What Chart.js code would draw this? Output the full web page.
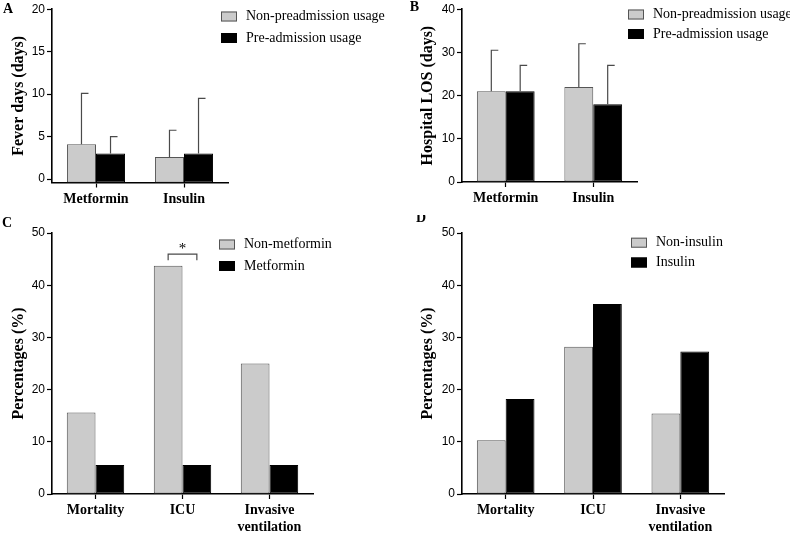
<!DOCTYPE html>
<html>
<head>
<meta charset="utf-8">
<title>Fever days, LOS and outcomes by diabetes medication</title>
<script src="https://cdn.jsdelivr.net/npm/chart.js@4.4.0/dist/chart.umd.min.js"></script>
<style>
  body { margin: 0; background: #fff; }
  #fig { position: relative; width: 790px; height: 533px; }
  #fig canvas { position: absolute; }
</style>
</head>
<body>
<div id="fig">
  <canvas id="chartA" width="395" height="215" style="left:0;top:0"></canvas>
  <canvas id="chartB" width="395" height="215" style="left:395px;top:0"></canvas>
  <canvas id="chartC" width="395" height="318" style="left:0;top:215px"></canvas>
  <canvas id="chartD" width="395" height="318" style="left:395px;top:215px"></canvas>
</div>
<script>
// ============================================
//  4-panel figure — medication vs outcomes
// ============================================

const SERIF = "'Liberation Serif', 'Times New Roman', serif";
const SANS  = "'Liberation Sans', Arial, sans-serif";
const GRAY = '#cbcbcb', GRAY_EDGE = '#555555', BLACK = '#000000';

// ── A: fever days (mean + SD) ────────────────
const drugsAB       = ['Metformin', 'Insulin'];
const feverNonPre   = [4.1, 2.6];
const feverNonPreSD = [6.0, 3.15];
const feverPre      = [3.0, 3.0];
const feverPreSD    = [2.0, 6.5];
const feverTicks    = [0, 5, 10, 15, 20];

// ── B: hospital LOS (mean + SD) ──────────────
const losNonPre   = [21, 22];
const losNonPreSD = [9.5, 10];
const losPre      = [21, 18];
const losPreSD    = [6, 9];
const losTicks    = [0, 10, 20, 30, 40];

// ── C / D: outcome percentages ───────────────
const outcomes     = ['Mortality', 'ICU', ['Invasive', 'ventilation']];
const nonMetformin = [15.6, 43.75, 25.0];
const metformin    = [5.56, 5.56, 5.56];
const nonInsulin   = [10.3, 28.2, 15.4];
const insulin      = [18.2, 36.4, 27.3];
const pctTicks     = [0, 10, 20, 30, 40, 50];

// error bars, bracket, legend and panel letter
const decor = {
  id: 'decor',
  afterDatasetsDraw(chart, args, opts) {
    const ctx = chart.ctx;
    const y = chart.scales.y;
    chart.data.datasets.forEach((ds, i) => {
      if (!ds.sd) return;
      chart.getDatasetMeta(i).data.forEach((bar, j) => {
        const top = y.getPixelForValue(ds.data[j] + ds.sd[j]);
        ctx.save();
        ctx.strokeStyle = '#4a4a4a';
        ctx.lineWidth = 1.2;
        ctx.beginPath();
        ctx.moveTo(bar.x, bar.y);
        ctx.lineTo(bar.x, top);
        ctx.lineTo(bar.x + 7, top);
        ctx.stroke();
        ctx.restore();
      });
    });

    if (opts.bracket) {
      const b = opts.bracket;
      const a1 = chart.getDatasetMeta(0).data[b.index];
      const a2 = chart.getDatasetMeta(1).data[b.index];
      const top = Math.min(a1.y, a2.y) - b.gap - b.leg;
      ctx.save();
      ctx.strokeStyle = '#4a4a4a';
      ctx.lineWidth = 1.2;
      ctx.beginPath();
      ctx.moveTo(a1.x, top + b.leg);
      ctx.lineTo(a1.x, top);
      ctx.lineTo(a2.x, top);
      ctx.lineTo(a2.x, top + b.leg);
      ctx.stroke();
      ctx.fillStyle = '#000';
      ctx.font = `15px ${SERIF}`;
      ctx.textAlign = 'center';
      ctx.textBaseline = 'middle';
      ctx.fillText(b.text, (a1.x + a2.x) / 2, top - 5);
      ctx.restore();
    }
  },
  afterDraw(chart, args, opts) {
    const ctx = chart.ctx;
    ctx.save();
    if (opts.legend) {
      const L = opts.legend;
      chart.data.datasets.forEach((ds, i) => {
        const cy = L.y + i * L.gap;
        ctx.fillStyle = ds.backgroundColor;
        ctx.fillRect(L.x, cy - 5, 16, 10);
        ctx.strokeStyle = ds.borderColor;
        ctx.lineWidth = 1;
        ctx.strokeRect(L.x + 0.5, cy - 4.5, 15, 9);
        ctx.fillStyle = '#000';
        ctx.font = `14px ${SERIF}`;
        ctx.textAlign = 'left';
        ctx.textBaseline = 'middle';
        ctx.fillText(ds.label, L.x + 25, cy);
      });
    }
    if (opts.letter) {
      ctx.fillStyle = '#000';
      ctx.font = `bold 14px ${SERIF}`;
      ctx.textAlign = 'center';
      ctx.textBaseline = 'middle';
      ctx.fillText(opts.letter.text, opts.letter.x, opts.letter.y);
    }
    ctx.restore();
  }
};

function barSet(label, data, sd, grey, base) {
  const ds = {
    label,
    data,
    backgroundColor: grey ? GRAY : BLACK,
    borderColor: grey ? GRAY_EDGE : BLACK,
    borderWidth: 1,
    borderSkipped: false,
    barPercentage: 1,
    categoryPercentage: 0.66
  };
  if (sd) ds.sd = sd;
  if (base !== undefined) ds.base = base;
  return ds;
}

function yScale(ticks, title, width, titlePad, min) {
  return {
    min: min ?? ticks[0],
    max: ticks[ticks.length - 1],
    afterBuildTicks: s => { s.ticks = ticks.map(v => ({ value: v })); },
    afterFit: s => { s.width = width; },
    ticks: { font: { family: SANS, size: 12 }, color: '#000', padding: 2 },
    grid: { drawOnChartArea: false, tickLength: 5, color: '#000', tickWidth: 1.2 },
    border: { color: '#000', width: 1.6 },
    title: {
      display: true, text: title, color: '#000',
      font: { family: SERIF, size: 16, weight: 'bold' },
      padding: { top: titlePad, bottom: 0 }
    }
  };
}

function xScale(height) {
  return {
    offset: true,
    afterFit: s => { s.height = height; },
    grid: { offset: false, drawOnChartArea: false, tickLength: 5, color: '#000', tickWidth: 1.2 },
    border: { color: '#000', width: 1.6 },
    ticks: {
      font: { family: SERIF, size: 14, weight: 'bold' }, color: '#000',
      padding: 3, maxRotation: 0, autoSkip: false
    }
  };
}

function makeChart(id, labels, datasets, y, x, padding, decorOpts) {
  return new Chart(document.getElementById(id), {
    type: 'bar',
    data: { labels, datasets },
    options: {
      responsive: false,
      animation: false,
      layout: { padding },
      plugins: { legend: { display: false }, tooltip: { enabled: false }, decor: decorOpts },
      scales: { x, y }
    },
    plugins: [decor]
  });
}

// ── A ────────────────────────────────────────
makeChart('chartA', drugsAB, [
  barSet('Non-preadmission usage', feverNonPre, feverNonPreSD, true, -0.4),
  barSet('Pre-admission usage', feverPre, feverPreSD, false, -0.4)
], yScale(feverTicks, 'Fever days (days)', 52, 9, -0.4), xScale(32.5),
  { top: 9, right: 167, left: 0, bottom: 0 },
  { legend: { x: 221, y: 16.5, gap: 21.5 }, letter: { text: 'A', x: 8, y: 9 } });

// ── B ────────────────────────────────────────
makeChart('chartB', drugsAB, [
  barSet('Non-preadmission usage', losNonPre, losNonPreSD, true),
  barSet('Pre-admission usage', losPre, losPreSD, false)
], yScale(losTicks, 'Hospital LOS (days)', 67, 23), xScale(33),
  { top: 7, right: 153, left: 0, bottom: 0 },
  { legend: { x: 233, y: 14.5, gap: 19.5 }, letter: { text: 'B', x: 19.5, y: 7.5 } });

// ── C ────────────────────────────────────────
makeChart('chartC', outcomes, [
  barSet('Non-metformin', nonMetformin, null, true),
  barSet('Metformin', metformin, null, false)
], yScale(pctTicks, 'Percentages (%)', 52, 9), xScale(39),
  { top: 18, right: 82, left: 0, bottom: 0 },
  { legend: { x: 219, y: 29.5, gap: 21.5 }, letter: { text: 'C', x: 7, y: 8 },
    bracket: { index: 1, gap: 5.5, leg: 6, text: '*' } });

// ── D ────────────────────────────────────────
makeChart('chartD', outcomes, [
  barSet('Non-insulin', nonInsulin, null, true),
  barSet('Insulin', insulin, null, false)
], yScale(pctTicks, 'Percentages (%)', 67, 23), xScale(39),
  { top: 18, right: 66, left: 0, bottom: 0 },
  { legend: { x: 236, y: 27.7, gap: 19.8 }, letter: { text: 'D', x: 26, y: 3 } });
</script>
</body>
</html>
